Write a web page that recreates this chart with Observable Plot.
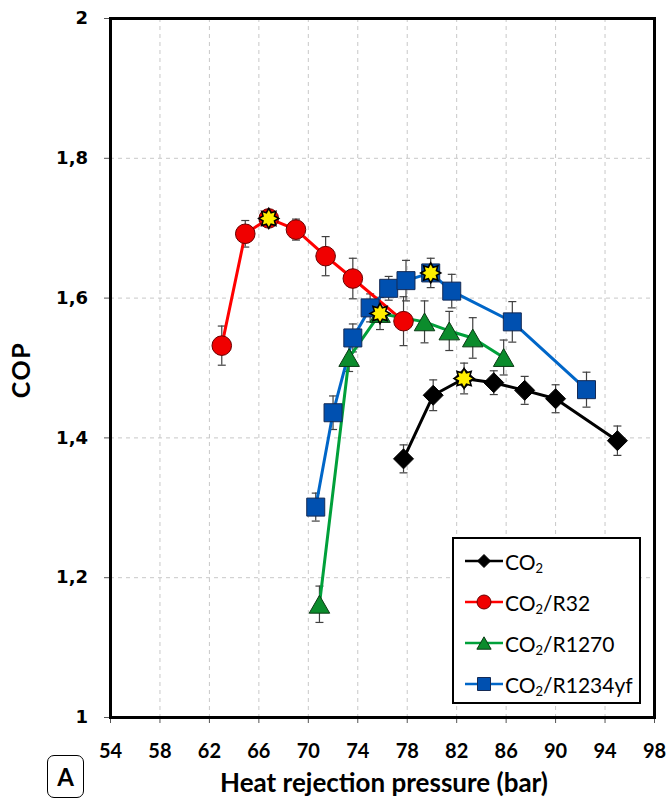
<!DOCTYPE html>
<html>
<head>
<meta charset="utf-8">
<script src="https://cdn.jsdelivr.net/npm/d3@7"></script>
<script src="https://cdn.jsdelivr.net/npm/@observablehq/plot@0.6"></script>
<style>
  html, body { margin: 0; padding: 0; background: #fff; }
  #wrap { position: relative; width: 667px; height: 800px; overflow: hidden; }
  #wrap > svg { position: absolute; left: 0; top: 0; }
  .title { position: absolute; font-family: Lato, sans-serif; font-weight: bold; color: #000; white-space: nowrap; }
  #legend { position: absolute; box-sizing: border-box; border: 2.5px solid #000; background: #fff; }
  .lrow { position: absolute; left: 0; height: 30px; display: flex; align-items: center; font-family: Lato, sans-serif; font-size: 21px; color: #000; white-space: nowrap; }
  .lrow svg { display: block; margin-left: 11px; margin-right: 2px; flex: none; }
  .lrow sub { font-size: 13px; vertical-align: -3px; line-height: 0; }
  #tagA { position: absolute; box-sizing: border-box; border: 1.5px solid #000; border-radius: 7px; background: #fff;
          font-family: Lato, sans-serif; font-weight: bold; font-size: 24px; display: flex; align-items: center; justify-content: center; }
</style>
</head>
<body>
<div id="wrap"></div>
<script>
// ---- Data ----
const seriesNames = ["CO2", "CO2/R32", "CO2/R1270", "CO2/R1234yf"];

const co2X   = [77.7, 80.1, 82.6, 85.0, 87.5, 90.0, 95.0];
const co2Y   = [1.370, 1.461, 1.485, 1.479, 1.468, 1.456, 1.396];
const co2Err = [0.020, 0.022, 0.022, 0.017, 0.020, 0.020, 0.021];

const r32X   = [63.0, 64.9, 66.8, 69.0, 71.4, 73.6, 77.7];
const r32Y   = [1.532, 1.692, 1.714, 1.698, 1.660, 1.628, 1.567];
const r32Err = [0.028, 0.019, 0.010, 0.015, 0.028, 0.029, 0.035];

const r1270X   = [70.9, 73.3, 75.8, 79.4, 81.4, 83.3, 85.8];
const r1270Y   = [1.162, 1.515, 1.578, 1.566, 1.553, 1.543, 1.515];
const r1270Err = [0.026, 0.020, 0.023, 0.030, 0.028, 0.029, 0.025];

const r1234X   = [70.6, 72.0, 73.6, 75.0, 76.5, 77.9, 79.9, 81.6, 86.5, 92.5];
const r1234Y   = [1.301, 1.436, 1.543, 1.586, 1.614, 1.625, 1.636, 1.610, 1.566, 1.469];
const r1234Err = [0.020, 0.024, 0.020, 0.020, 0.017, 0.029, 0.021, 0.024, 0.029, 0.025];

const xTicks = [54, 58, 62, 66, 70, 74, 78, 82, 86, 90, 94, 98];
const yTicks = [1, 1.2, 1.4, 1.6, 1.8, 2];

// ---- Custom symbols ----
const rad = size => Math.sqrt(size / Math.PI);
const diamondSym = { draw(c, s) { const r = rad(s); c.moveTo(0, -r); c.lineTo(r, 0); c.lineTo(0, r); c.lineTo(-r, 0); c.closePath(); } };
const squareSym  = { draw(c, s) { const r = rad(s); c.rect(-r, -r, 2 * r, 2 * r); } };
const triSym     = { draw(c, s) { const r = rad(s); const w = 1.9 * r, h = 1.65 * r; c.moveTo(0, -h / 2); c.lineTo(w / 2, h / 2); c.lineTo(-w / 2, h / 2); c.closePath(); } };
const circSym    = { draw(c, s) { const r = rad(s); c.moveTo(r, 0); c.arc(0, 0, r, 0, 2 * Math.PI); c.closePath(); } };
const starSym    = { draw(c, s) { const r = rad(s); for (let i = 0; i < 16; i++) { const a = i * Math.PI / 8 - Math.PI / 2; const rr = i % 2 ? r * 0.62 : r; const px = rr * Math.cos(a), py = rr * Math.sin(a); i ? c.lineTo(px, py) : c.moveTo(px, py); } c.closePath(); } };
const capSym     = { draw(c, s) { const r = rad(s); c.moveTo(-r, 0); c.lineTo(r, 0); } };

const styles = [
  { line: "#000000", fill: "#000000", stroke: "#000000", sym: diamondSym, r: 10,  lr: 6.5 },
  { line: "#ff0000", fill: "#f00000", stroke: "#6a0000", sym: circSym,    r: 9.8, lr: 7 },
  { line: "#00a03a", fill: "#0b8c2c", stroke: "#0a3a14", sym: triSym,     r: 10.8, lr: 7.5 },
  { line: "#0066c8", fill: "#0050b0", stroke: "#142a55", sym: squareSym,  r: 9, lr: 6.5 }
];

const raw = [[co2X, co2Y, co2Err], [r32X, r32Y, r32Err], [r1270X, r1270Y, r1270Err], [r1234X, r1234Y, r1234Err]];
const series = raw.map(([xs, ys, es], i) => xs.map((x, j) => ({ series: seriesNames[i], x, y: ys[j], err: es[j] })));
const allRows = series.flat();
const optimum = series.map(rows => rows[d3.maxIndex(rows, d => d.y)]);

const fmtY = d => (d === 1 || d === 2) ? String(d) : d.toFixed(1).replace(".", ",");

const marks = [
  Plot.gridX(xTicks.slice(1, -1), { stroke: "#c8c8c8", strokeOpacity: 1, strokeDasharray: "4,4", strokeWidth: 1 }),
  Plot.gridY(yTicks.slice(1, -1), { stroke: "#c8c8c8", strokeOpacity: 1, strokeDasharray: "4,4", strokeWidth: 1 }),
  Plot.axisX({ ticks: xTicks, tickSize: 6, tickFormat: () => "", label: null, stroke: "#555" }),
  Plot.axisY({ ticks: yTicks, tickSize: 6, tickFormat: () => "", label: null, stroke: "#555" }),
  Plot.text(xTicks, { x: d => d, text: d => String(d), frameAnchor: "bottom", lineAnchor: "top", dy: 26, fontSize: 20, fontWeight: "bold", fontFamily: "Lato" }),
  Plot.text(yTicks, { y: d => d, text: fmtY, frameAnchor: "left", textAnchor: "end", dx: -22.5, fontSize: 18, fontWeight: "bold", fontFamily: "DejaVu Sans" }),
  Plot.ruleX(allRows, { x: "x", y1: d => d.y - d.err, y2: d => d.y + d.err, stroke: "#404040", strokeWidth: 1.2 }),
  Plot.dot(allRows, { x: "x", y: d => d.y + d.err, symbol: capSym, r: 4, fill: "none", stroke: "#404040", strokeWidth: 1.2 }),
  Plot.dot(allRows, { x: "x", y: d => d.y - d.err, symbol: capSym, r: 4, fill: "none", stroke: "#404040", strokeWidth: 1.2 })
];
series.forEach((rows, i) => marks.push(Plot.line(rows, { x: "x", y: "y", stroke: styles[i].line, strokeWidth: 3 })));
series.forEach((rows, i) => marks.push(Plot.dot(rows, { x: "x", y: "y", symbol: styles[i].sym, r: styles[i].r, fill: styles[i].fill, stroke: styles[i].stroke, strokeWidth: 1 })));
marks.push(Plot.dot(optimum, { x: "x", y: "y", symbol: starSym, r: 10, fill: "#ffee00", stroke: "#000", strokeWidth: 1.6 }));
marks.push(Plot.frame({ stroke: "#000", strokeWidth: 3 }));

const chart = Plot.plot({
  width: 667, height: 800,
  marginLeft: 110, marginRight: 13, marginTop: 18, marginBottom: 83,
  x: { domain: [54, 98] }, y: { domain: [1, 2] },
  style: { background: "transparent" },
  marks
});
const wrap = document.getElementById("wrap");
wrap.appendChild(chart);

// ---- Titles ----
const xt = document.createElement("div");
xt.className = "title";
xt.textContent = "Heat rejection pressure (bar)";
xt.style.cssText = "font-size:26px;left:384px;top:766px;transform:translateX(-50%);";
wrap.appendChild(xt);

const yt = document.createElement("div");
yt.className = "title";
yt.textContent = "COP";
yt.style.cssText = "font-size:25px;letter-spacing:1.5px;left:20px;top:370px;transform:translate(-50%,-50%) rotate(-90deg);";
wrap.appendChild(yt);

const tag = document.createElement("div");
tag.id = "tagA";
tag.textContent = "A";
tag.style.cssText = "left:47px;top:755px;width:37px;height:43px;";
wrap.appendChild(tag);

// ---- Legend ----
const legend = document.createElement("div");
legend.id = "legend";
legend.style.cssText = "left:452px;top:537px;width:189px;height:167px;";
const labelsHtml = ["CO<sub>2</sub>", "CO<sub>2</sub>/R32", "CO<sub>2</sub>/R1270", "CO<sub>2</sub>/R1234yf"];
styles.forEach((st, i) => {
  const row = document.createElement("div");
  row.className = "lrow";
  row.style.top = (7 + i * 41) + "px";
  const w = 38, h = 20, cx = w / 2, cy = h / 2;
  const p = d3.path();
  st.sym.draw(p, st.lr * st.lr * Math.PI);
  row.innerHTML =
    `<svg width="${w}" height="${h}" viewBox="0 0 ${w} ${h}">` +
    `<line x1="0" x2="${w}" y1="${cy}" y2="${cy}" stroke="${st.line}" stroke-width="2.5"/>` +
    `<path transform="translate(${cx},${cy})" d="${p.toString()}" fill="${st.fill}" stroke="${st.stroke}" stroke-width="1"/>` +
    `</svg><span>${labelsHtml[i]}</span>`;
  legend.appendChild(row);
});
wrap.appendChild(legend);
</script>
</body>
</html>
